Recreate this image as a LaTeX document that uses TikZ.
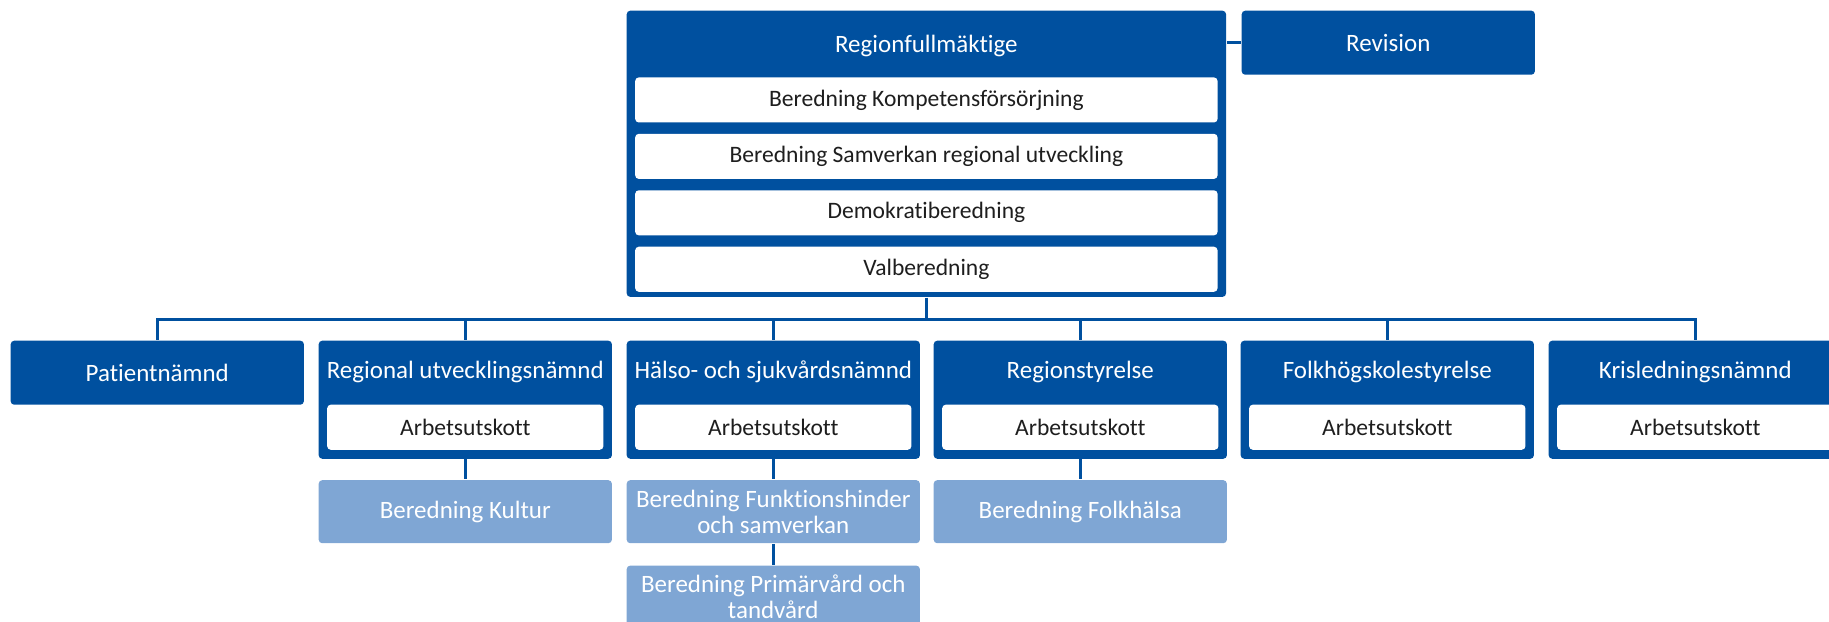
\documentclass[tikz,border=0pt]{standalone}
\usepackage{fontspec}
\setmainfont{Carlito}[Ligatures=NoCommon]
\usetikzlibrary{positioning}
\definecolor{regblue}{HTML}{00509F}
\definecolor{reglight}{HTML}{7FA6D4}
\definecolor{regtext}{HTML}{1E1E1E}
\tikzset{
  organ/.style={fill=regblue, rounded corners=1pt, minimum width=2.93cm, inner sep=0pt,
    anchor=north west, text=white, font=\fontsize{7.1}{7.4}\selectfont},
  organtitle/.style={text=white, inner sep=0pt, font=\fontsize{7.1}{7.4}\selectfont},
  subbox/.style={fill=white, rounded corners=1pt, minimum height=0.45cm, inner sep=0pt,
    text=regtext, font=\fontsize{6.7}{7.4}\selectfont},
  beredning/.style={fill=reglight, rounded corners=1pt, minimum width=2.93cm, minimum height=0.63cm,
    inner sep=0pt, text=white, align=center, font=\fontsize{7.1}{7.4}\selectfont},
  link/.style={draw=regblue, line width=1pt}
}
\begin{document}
\begin{tikzpicture}[x=0.01cm,y=-0.01cm]
  \useasboundingbox (0,0) rectangle (1829,622);
  \node[organ, minimum width=5.99cm, minimum height=2.86cm] (rf) at (626,10) {};
  \node[organtitle] (rf-t) at ([yshift=-0.36cm]rf.north) {Regionfullmäktige};
  \node[subbox, minimum width=5.82cm, anchor=north] (rf1) at ([yshift=-0.667cm]rf.north) {Beredning Kompetensförsörjning};
  \node[subbox, minimum width=5.82cm, below=0.1cm of rf1] (rf2) {Beredning Samverkan regional utveckling};
  \node[subbox, minimum width=5.82cm, below=0.1cm of rf2] (rf3) {Demokratiberedning};
  \node[subbox, minimum width=5.82cm, below=0.1cm of rf3] (rf4) {Valberedning};
  \node[organ, minimum height=0.64cm] (rev) at (1241,10) {Revision};
  \draw[link] (rev.west -| rf.east) -- (rev.west);

  \node[organ, minimum height=0.64cm] (pat) at (10,340) {Patientnämnd};
  \foreach \n/\x/\t in {ru/318/Regional utvecklingsnämnd, hs/626/Hälso- och sjukvårdsnämnd,
      rs/933/Regionstyrelse, fh/1240/Folkhögskolestyrelse, kl/1548/Krisledningsnämnd} {
    \node[organ, minimum height=1.18cm] (\n) at (\x,340) {};
    \node[organtitle] (\n-t) at ([yshift=-0.32cm]\n.north) {\t};
    \node[subbox, minimum width=2.76cm, anchor=north] (\n-au) at ([yshift=-0.64cm]\n.north) {Arbetsutskott};
  }

  \node[beredning, anchor=north] (kultur) at ([yshift=-0.2cm]ru.south) {Beredning Kultur};
  \node[beredning, anchor=north] (funk) at ([yshift=-0.2cm]hs.south) {Beredning Funktionshinder\\och samverkan};
  \node[beredning, anchor=north] (prim) at ([yshift=-0.21cm]funk.south) {Beredning Primärvård och\\tandvård};
  \node[beredning, anchor=north] (folk) at ([yshift=-0.2cm]rs.south) {Beredning Folkhälsa};

  \coordinate (bus) at ([yshift=-0.22cm]rf.south);
  \draw[link] (rf.south) -- (bus);
  \draw[link] (pat.north) -- (bus -| pat.north) -- (bus -| kl.north) -- (kl.north);
  \foreach \n in {ru,hs,rs,fh}
    \draw[link] (bus -| \n.north) -- (\n.north);
  \draw[link] (ru.south) -- (kultur.north);
  \draw[link] (hs.south) -- (funk.north);
  \draw[link] (funk.south) -- (prim.north);
  \draw[link] (rs.south) -- (folk.north);
\end{tikzpicture}
\end{document}
